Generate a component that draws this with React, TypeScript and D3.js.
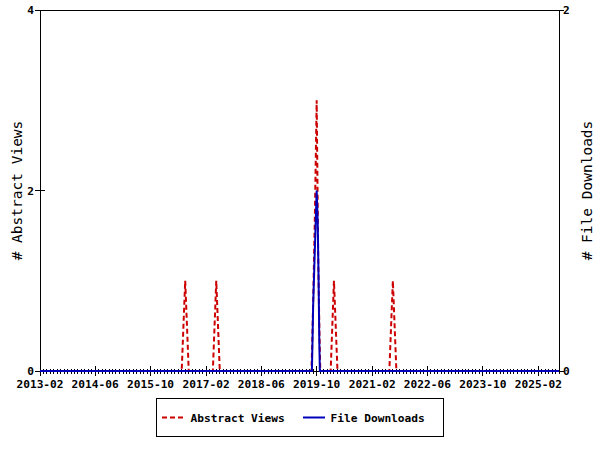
import React from "react";
import * as d3 from "d3";

const xTickLabels = ["2013-02", "2014-06", "2015-10", "2017-02", "2018-06", "2019-10", "2021-02", "2022-06", "2023-10", "2025-02"];
const xDomain = ["2013-02-01", "2025-08-01"];
const leftTicks = [0, 2, 4];
const rightTicks = [0, 2];

const viewsDates = [
  "2013-02-01", "2016-07-01", "2016-08-01", "2016-09-01", "2017-04-01", "2017-05-01", "2017-06-01",
  "2019-08-16", "2019-08-23", "2019-09-04", "2019-09-15", "2019-10-01", "2019-10-14", "2019-10-25", "2019-11-02",
  "2020-02-01", "2020-03-01", "2020-04-01", "2021-07-01", "2021-08-01", "2021-09-01", "2025-08-01",
];
const viewsValues = [0, 0, 1, 0, 0, 1, 0, 0, 0.3, 1.0, 1.7, 3.0, 1.3, 0.45, 0, 0, 1, 0, 0, 1, 0, 0];

const downloadsDates = [
  "2013-02-01", "2019-08-20", "2019-08-24", "2019-08-31", "2019-09-13", "2019-10-01",
  "2019-10-10", "2019-10-18", "2019-10-24", "2019-10-29", "2025-08-01",
];
const downloadsValues = [0, 0, 0.12, 0.36, 0.63, 1, 0.83, 0.5, 0.17, 0, 0];

const seriesNames = ["Abstract Views", "File Downloads"];

const W = 600, H = 450;
const L = 40, R = 559, T = 10, B = 371;
const RED = "#cc0000";
const BLUE = "#0000bb";
const FONT = "'DejaVu Sans Mono', monospace";

const parse = d3.utcParse("%Y-%m-%d");

export default function App() {
  const x = d3.scaleUtc().domain(xDomain.map((d) => parse(d) as Date)).range([L, R]);
  const yL = d3.scaleLinear().domain([0, 4]).range([B, T]);
  const yR = d3.scaleLinear().domain([0, 2]).range([B, T]);

  const views = viewsDates.map((d, i) => ({ d: parse(d) as Date, v: viewsValues[i] }));
  const downloads = downloadsDates.map((d, i) => ({ d: parse(d) as Date, v: downloadsValues[i] }));

  const lineL = d3.line<{ d: Date; v: number }>().x((p) => x(p.d)).y((p) => yL(p.v));
  const lineR = d3.line<{ d: Date; v: number }>().x((p) => x(p.d)).y((p) => yR(p.v));

  const minor = d3.utcMonth.range(parse(xDomain[0]) as Date, d3.utcDay.offset(parse(xDomain[1]) as Date, 1));
  const major = xTickLabels.map((s) => parse(s + "-01") as Date);

  return (
    <svg width={W} height={H} style={{ position: "fixed", left: 0, top: 0, background: "#fff" }} fontFamily={FONT}>
      <rect x={0} y={0} width={W} height={H} fill="#fff" />
      {/* border */}
      <rect x={L} y={T} width={R - L} height={B - T} fill="none" stroke="#000" strokeWidth={1} shapeRendering="crispEdges" />
      {/* minor x ticks */}
      {minor.map((d, i) => (
        <line key={"m" + i} x1={x(d)} x2={x(d)} y1={B - 2.5} y2={B + 2.5} stroke="#000" strokeWidth={1} shapeRendering="crispEdges" />
      ))}
      {/* major x ticks + labels */}
      {major.map((d, i) => (
        <g key={"M" + i}>
          <line x1={x(d)} x2={x(d)} y1={B - 5} y2={B + 5} stroke="#000" strokeWidth={1} shapeRendering="crispEdges" />
          <text x={x(d)} y={388} textAnchor="middle" fontSize={11.2} fontWeight="bold">{xTickLabels[i]}</text>
        </g>
      ))}
      {/* left ticks */}
      {leftTicks.map((v) => (
        <g key={"l" + v}>
          <line x1={L - 5} x2={L + 5} y1={yL(v)} y2={yL(v)} stroke="#000" strokeWidth={1} shapeRendering="crispEdges" />
          <text x={L - 6} y={yL(v) + 4} textAnchor="end" fontSize={11.2} fontWeight="bold">{v}</text>
        </g>
      ))}
      {/* right ticks */}
      {rightTicks.map((v) => (
        <g key={"r" + v}>
          <line x1={R - 5} x2={R + 5} y1={yR(v)} y2={yR(v)} stroke="#000" strokeWidth={1} shapeRendering="crispEdges" />
          <text x={R + 4} y={yR(v) + 4} textAnchor="start" fontSize={11.2} fontWeight="bold">{v}</text>
        </g>
      ))}
      {/* axis titles */}
      <text transform={`translate(22,${(T + B) / 2}) rotate(-90)`} textAnchor="middle" fontSize={14.5}>
        {"# " + seriesNames[0]}
      </text>
      <text transform={`translate(592,${(T + B) / 2}) rotate(-90)`} textAnchor="middle" fontSize={14.5}>
        {"# " + seriesNames[1]}
      </text>
      {/* series */}
      <path d={lineL(views) ?? ""} fill="none" stroke={RED} strokeWidth={2} strokeDasharray="5,3" />
      <path d={lineR(downloads) ?? ""} fill="none" stroke={BLUE} strokeWidth={2} />
      {/* legend */}
      <rect x={156.5} y={398.5} width={287} height={38} fill="#fff" stroke="#000" strokeWidth={1} shapeRendering="crispEdges" />
      <line x1={162} x2={184} y1={417.5} y2={417.5} stroke={RED} strokeWidth={2} strokeDasharray="5,3" />
      <text x={190.5} y={422} fontSize={11.2} fontWeight="bold">{seriesNames[0]}</text>
      <line x1={303} x2={325} y1={417.5} y2={417.5} stroke={BLUE} strokeWidth={2} />
      <text x={330.5} y={422} fontSize={11.2} fontWeight="bold">{seriesNames[1]}</text>
    </svg>
  );
}
